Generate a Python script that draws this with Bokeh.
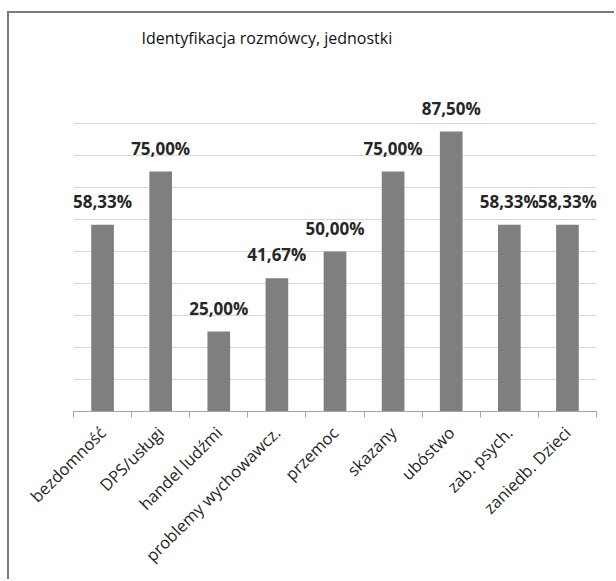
from bokeh.plotting import figure
from bokeh.models import ColumnDataSource, LabelSet, FixedTicker, Range1d, Title
from bokeh.layouts import column
from bokeh.core.properties import value
from bokeh.embed import file_html
from bokeh.resources import INLINE
import math

categories = ["bezdomność", "DPS/usługi", "handel ludźmi", "problemy wychowawcz.",
              "przemoc", "skazany", "ubóstwo", "zab. psych.", "zaniedb. Dzieci"]
values = [58.33, 75.00, 25.00, 41.67, 50.00, 75.00, 87.50, 58.33, 58.33]
y_ticks = [0, 10, 20, 30, 40, 50, 60, 70, 80, 90, 100]

xs = list(range(len(categories)))
labels = [f"{v:.2f}".replace(".", ",") + "%" for v in values]
src = ColumnDataSource(dict(x=xs, top=values, label=labels))

FONT = "Open Sans"
p = figure(width=605, height=566, output_backend="svg", toolbar_location=None,
           x_range=Range1d(-0.5, len(categories) - 0.5), y_range=Range1d(0, 100),
           min_border_left=64, min_border_right=18, min_border_top=78, min_border_bottom=168,
           title="Identyfikacja rozmówcy, jednostki")

p.title.text_font = FONT
p.title.text_font_size = "16px"
p.title.text_font_style = "normal"
p.title.text_color = "#111111"
p.title.align = "left"
p.title.offset = 68

p.add_layout(Title(text=" ", text_font_size="23px"), "above")

p.vbar(x="x", top="top", width=0.39, source=src, color="#7f7f7f", line_color=None)

p.add_layout(LabelSet(x="x", y="top", text="label", source=src, y_offset=17,
                      text_align="center", text_baseline="alphabetic",
                      text_font=value(FONT), text_font_style="bold", text_font_size="17px",
                      text_color="#262626"))

p.xaxis.ticker = FixedTicker(ticks=xs, minor_ticks=[i - 0.5 for i in range(len(categories) + 1)])
p.xaxis.major_label_overrides = {i: c for i, c in enumerate(categories)}
p.xaxis.major_label_orientation = math.pi / 4
p.xaxis.major_tick_out = 0
p.xaxis.major_tick_in = 0
p.xaxis.minor_tick_out = 6
p.xaxis.minor_tick_in = 0
p.xaxis.minor_tick_line_color = "#a6a6a6"
p.xaxis.axis_line_color = "#a6a6a6"
p.xaxis.major_label_text_font = FONT
p.xaxis.major_label_text_font_size = "16.5px"
p.xaxis.major_label_text_color = "#262626"
p.xaxis.major_label_standoff = 12

p.yaxis.ticker = FixedTicker(ticks=y_ticks)
p.yaxis.visible = False
p.ygrid.grid_line_color = "#d9d9d9"
p.xgrid.grid_line_color = None
p.outline_line_color = None

layout = column(p, styles={"margin-left": "7px", "margin-top": "11px",
                           "border-left": "2px solid #7a7a7a",
                           "border-top": "2px solid #7a7a7a"})

open("out.html", "w").write(file_html(layout, INLINE))
